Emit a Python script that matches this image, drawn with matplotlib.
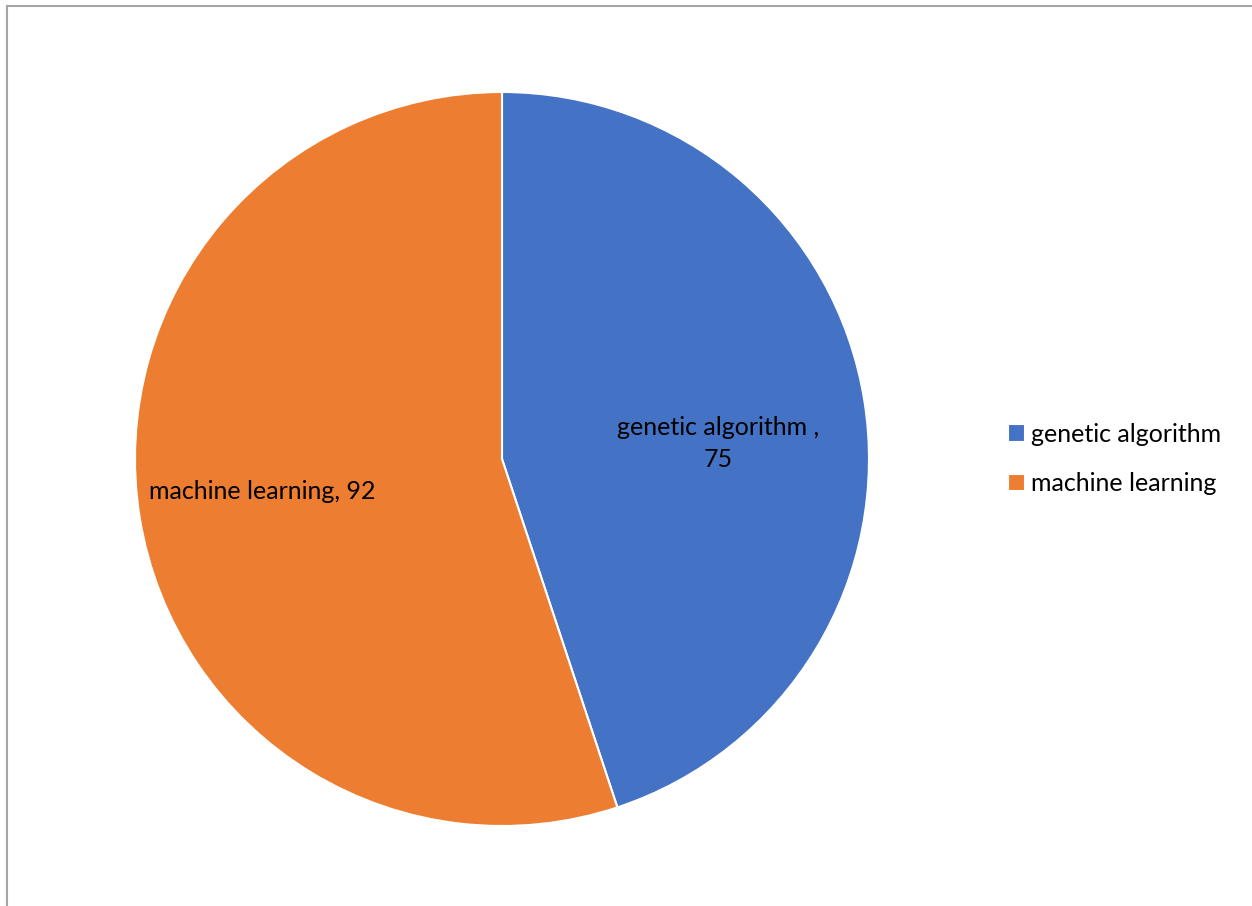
import numpy as np
import matplotlib.pyplot as plt
from matplotlib.patches import Rectangle

labels = ['genetic algorithm', 'machine learning']
values = [75, 92]
colors = ['#4472C4', '#ED7D31']
label_text = ['genetic algorithm ,\n75', 'machine learning, 92']
label_dist = [0.59, 0.66]
angle_shift = [-5, -1.5]

plt.rcParams['font.family'] = ['Lato', 'DejaVu Sans']

W, H = 1252, 906
fig = plt.figure(figsize=(W / 100, H / 100), dpi=100)

# chart border (only left and top visible in the original)
fig.patches.append(Rectangle((7 / W, -0.1), 1.2, (H - 6) / H + 0.1, transform=fig.transFigure,
                             fill=False, edgecolor='#A6A6A6', lw=1.5))

cx, cy, r = 502, 459, 367
ax = fig.add_axes([(cx - r) / W, (H - cy - r) / H, 2 * r / W, 2 * r / H])
wedges, _ = ax.pie(values, colors=colors, startangle=90, counterclock=False,
                   wedgeprops=dict(edgecolor='white', linewidth=1.5))
ax.set_xlim(-1, 1)
ax.set_ylim(-1, 1)
ax.set_aspect('equal')

for w, txt, d, s in zip(wedges, label_text, label_dist, angle_shift):
    ang = np.deg2rad((w.theta1 + w.theta2) / 2 + s)
    ax.text(d * np.cos(ang), d * np.sin(ang), txt, ha='center', va='center',
            fontsize=18, color='black', linespacing=1.5)

fig.legend(wedges, labels, loc='center left', bbox_to_anchor=(985 / W, 1 - 459 / H),
           frameon=False, fontsize=18, handlelength=0.7, handleheight=0.7,
           handletextpad=0.25, labelspacing=1.05)

fig.savefig('out.png', dpi=100)
